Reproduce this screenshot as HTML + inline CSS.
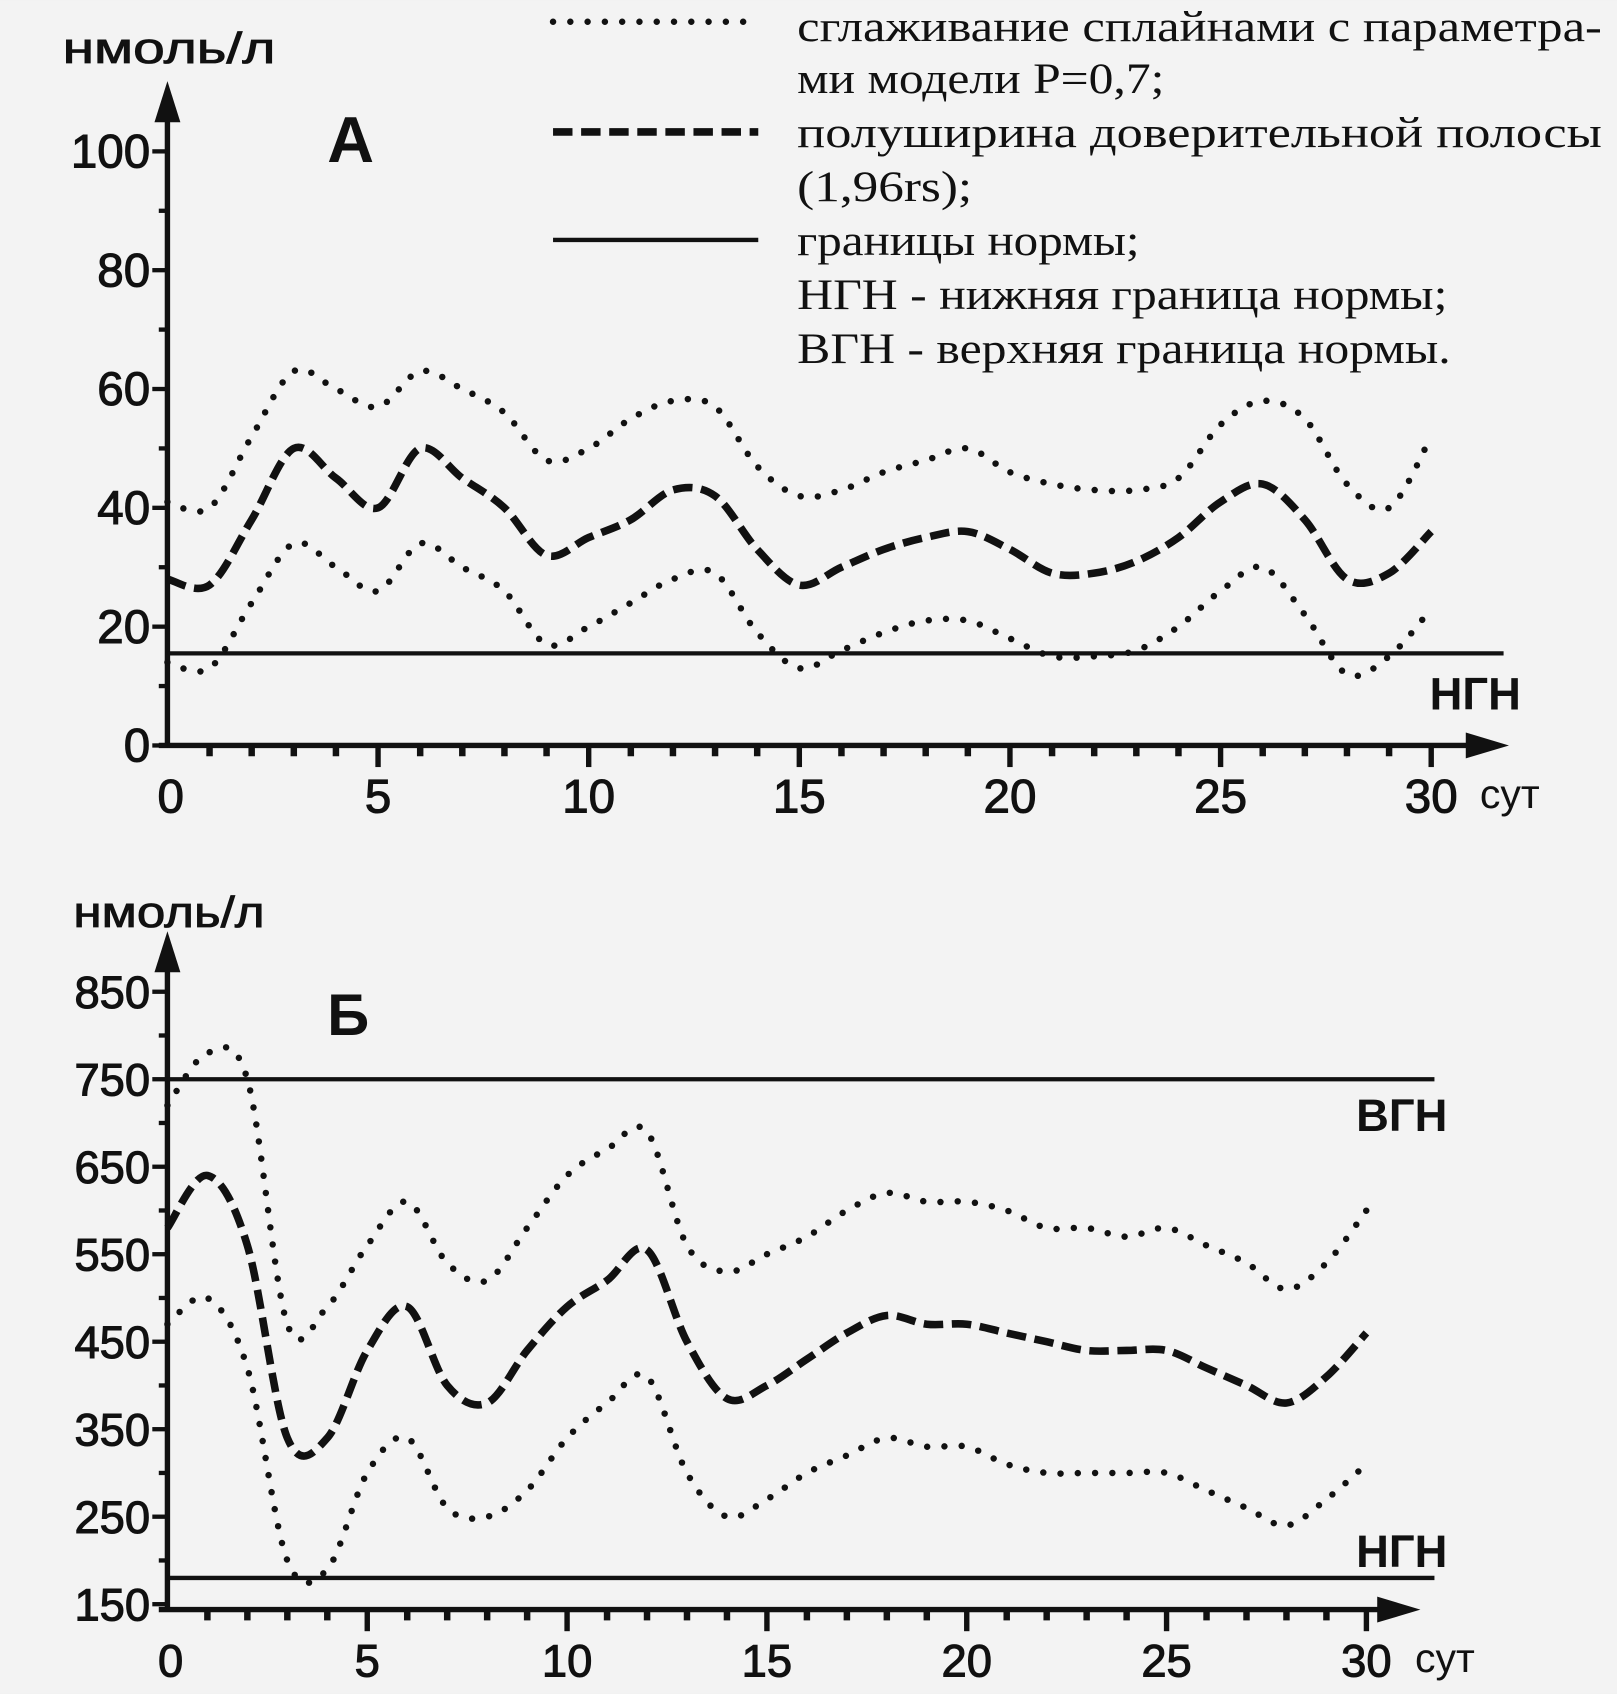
<!DOCTYPE html>
<html><head><meta charset="utf-8"><style>
html,body{margin:0;padding:0;background:#f3f3f3}
svg{display:block}
.t{font-family:"Liberation Sans",sans-serif;fill:#111}
.s{font-family:"Liberation Serif",serif;fill:#111;font-size:40px}
</style></head><body>
<svg id="c" width="1617" height="1694" viewBox="0 0 1497 1568">
<rect width="1497" height="1568" fill="#f3f3f3"/>
<g>
<line x1="512" y1="20" x2="692" y2="20" stroke="#111" stroke-width="6" stroke-dasharray="0 16" stroke-linecap="round"/>
<line x1="512" y1="122" x2="702" y2="122" stroke="#111" stroke-width="7" stroke-dasharray="18 8"/>
<line x1="512" y1="222" x2="702" y2="222" stroke="#111" stroke-width="4"/>
<text class="s" x="738" y="38" textLength="745" lengthAdjust="spacingAndGlyphs">сглаживание сплайнами с параметра-</text>
<text class="s" x="738" y="86" textLength="340" lengthAdjust="spacingAndGlyphs">ми модели P=0,7;</text>
<text class="s" x="738" y="136" textLength="745" lengthAdjust="spacingAndGlyphs">полуширина доверительной полосы</text>
<text class="s" x="738" y="186" textLength="162" lengthAdjust="spacingAndGlyphs">(1,96rs);</text>
<text class="s" x="738" y="236" textLength="317" lengthAdjust="spacingAndGlyphs">границы нормы;</text>
<text class="s" x="738" y="286" textLength="602" lengthAdjust="spacingAndGlyphs">НГН - нижняя граница нормы;</text>
<text class="s" x="738" y="336" textLength="605" lengthAdjust="spacingAndGlyphs">ВГН - верхняя граница нормы.</text>
</g>
</svg>
<script>
const days=[];for(let i=0;i<=30;i++)days.push(i);
const aTicks=[0,20,40,60,80,100];
const aMid=[28,27,38,50,45,40,50,45,40,32,35,38,43,42,33,27,30,33,35,36,33,29,29,31,35,41,44,38,28,29,36];
const aUp=[41,40,52,63,60,57,63,60,56,48,50,55,58,57,47,42,43,46,48,50,46,44,43,43,45,54,58,55,44,40,52];
const aLo=[14,13,24,34,30,26,34,30,26,17,20,24,28,29,19,13,16,19,21,21,18,15,15,16,20,26,30,22,12,15,23];
const aNorm=[15.5];
const bTicks=[150,250,350,450,550,650,750,850];
const bMid=[580,640,560,340,340,440,490,400,380,440,490,520,555,450,385,400,430,460,480,470,470,460,450,440,440,440,420,400,380,410,460];
const bUp=[720,780,750,470,490,560,610,540,520,580,640,670,690,560,530,550,570,600,620,610,610,600,580,580,570,580,560,540,510,540,600];
const bLo=[470,500,420,200,190,300,340,260,250,280,340,380,410,300,250,270,300,320,340,330,330,310,300,300,300,300,280,260,240,270,310];
const bNorm=[180,750];
const xLabels=[0,5,10,15,20,25,30];

const svg=document.getElementById('c');const NS='http://www.w3.org/2000/svg';
function mk(tag,a,p){const e=document.createElementNS(NS,tag);for(const k in a)e.setAttribute(k,a[k]);(p||svg).appendChild(e);return e;}
function path(pts){let d='M'+pts[0][0]+','+pts[0][1];for(let i=0;i<pts.length-1;i++){const p0=pts[i-1]||pts[i],p1=pts[i],p2=pts[i+1],p3=pts[i+2]||p2;
d+=' C'+(p1[0]+(p2[0]-p0[0])/6)+','+(p1[1]+(p2[1]-p0[1])/6)+' '+(p2[0]-(p3[0]-p1[0])/6)+','+(p2[1]-(p3[1]-p1[1])/6)+' '+p2[0]+','+p2[1];}return d;}

function panel(o){
 const g=mk('g',{});
 
 
 const X=d=>o.x0+d*o.dx, Y=v=>o.y0-(v-o.v0)*o.k;
 const ya=mk('line',{x1:o.x0,y1:o.axisY,x2:o.x0,y2:o.yTop+30,stroke:'#111','stroke-width':5},g);
 
 const yar=mk('polygon',{points:`${o.x0},${o.yTop} ${o.x0-12},${o.yTop+38} ${o.x0+12},${o.yTop+38}`,fill:'#111'},g);
 
 const xa=mk('line',{x1:o.x0-8,y1:o.axisY,x2:o.xEnd-30,y2:o.axisY,stroke:'#111','stroke-width':5},g);
 
 const xar=mk('polygon',{points:`${o.xEnd},${o.axisY} ${o.xEnd-40},${o.axisY-12} ${o.xEnd-40},${o.axisY+12}`,fill:'#111'},g);
 
 days.forEach(d=>{if(d===0)return;const big=d%5===0;const t=mk('line',{x1:X(d),y1:o.axisY,x2:X(d),y2:o.axisY+(big?20:10),stroke:'#111','stroke-width':big?5:6},g);
  });
 xLabels.forEach(d=>{const t=mk('text',{x:X(d)+(d===0?3:0),y:o.axisY+62,'text-anchor':'middle','font-size':o.fs,stroke:'#111','stroke-width':1,class:'t'},g);t.textContent=d;
  });
 const u=mk('text',{x:X(30)+45,y:o.axisY+58,'font-size':38,class:'t'},g);u.textContent='сут';
 
 o.ticks.forEach((v,i)=>{const t=mk('line',{x1:o.x0-14,y1:Y(v),x2:o.x0,y2:Y(v),stroke:'#111','stroke-width':4},g);
  
  if(i<o.ticks.length-1){const m=mk('line',{x1:o.x0-8,y1:(Y(v)+Y(o.ticks[i+1]))/2,x2:o.x0,y2:(Y(v)+Y(o.ticks[i+1]))/2,stroke:'#111','stroke-width':4},g);
  }
  const l=mk('text',{x:o.x0-16,y:Y(v)+15,'text-anchor':'end','font-size':o.fs,stroke:'#111','stroke-width':1,class:'t'},g);l.textContent=v;
  });
 const yt=mk('text',{x:o.unitX,y:o.unitY,'font-size':40,textLength:o.unitW,lengthAdjust:'spacingAndGlyphs',stroke:'#111','stroke-width':0.8,class:'t'},g);yt.textContent='нмоль/л';
 
 const pl=mk('text',{x:o.lblX,y:o.lblY,'font-size':o.lblFs,'font-weight':'bold',class:'t'},g);pl.textContent=o.lbl;
 
 o.norms.forEach((v,i)=>{const l=mk('line',{x1:o.x0,y1:Y(v),x2:o.normEnd,y2:Y(v),stroke:'#111','stroke-width':4},g);
  
  const t=mk('text',{x:o.normEnd+o.nOff,y:Y(v)+o.nDy[i],'text-anchor':'end','font-size':42,'font-weight':'bold',class:'t'},g);t.textContent=o.normNames[i]==='ngn'?'НГН':'ВГН';
  });
 [[o.up,'upper-smooth','dot'],[o.lo,'lower-smooth','dot'],[o.mid,'half-width','dash']].forEach(([arr,n,s])=>{
  const p=mk('path',{d:path(days.map(d=>[X(d),Y(arr[d])])),fill:'none',stroke:'#111','stroke-width':s==='dot'?6:7,'stroke-dasharray':s==='dot'?'0 16':'18 8','stroke-linecap':s==='dot'?'round':'butt'},g);
  });
}
panel({name:'panel-a',x0:155,dx:39,y0:690,v0:0,k:5.5,axisY:690,yTop:75,xEnd:1397,ticks:aTicks,fs:44,unitX:58,unitY:58,unitW:197,lbl:'А',lblX:303,lblY:150,lblFs:60,
 norms:aNorm,normNames:['ngn'],normEnd:1392,nOff:16,nDy:[52],mid:aMid,up:aUp,lo:aLo});
panel({name:'panel-b',x0:155,dx:37,y0:1485,v0:150,k:0.81,axisY:1490,yTop:862,xEnd:1315,ticks:bTicks,fs:42,unitX:68,unitY:858,unitW:177,lbl:'Б',lblX:303,lblY:958,lblFs:54,
 norms:bNorm,normNames:['ngn','vgn'],normEnd:1328,nOff:12,nDy:[-10,48],mid:bMid,up:bUp,lo:bLo});
</script>
</body></html>
